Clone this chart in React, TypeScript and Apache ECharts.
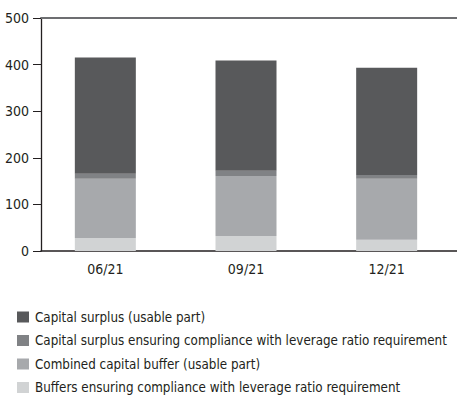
import React, { useEffect, useRef } from "react";
import * as echarts from "echarts";

const categories = ["06/21", "09/21", "12/21"];
const yTicks = [0, 100, 200, 300, 400, 500];
const buffersLeverage = [28, 32, 24];
const combinedBuffer = [127, 129, 131];
const surplusLeverage = [11, 11, 8];
const surplusUsable = [249, 237, 230];

const seriesNames = [
  "Capital surplus (usable part)",
  "Capital surplus ensuring compliance with leverage ratio requirement",
  "Combined capital buffer (usable part)",
  "Buffers ensuring compliance with leverage ratio requirement",
];
const colors = ["#58595b", "#808285", "#a7a9ac", "#d1d3d4"];

const FONT = "'DejaVu Sans Condensed', 'DejaVu Sans', sans-serif";

export default function App() {
  const ref = useRef<HTMLDivElement>(null);
  useEffect(() => {
    if (!ref.current) return;
    const chart = echarts.init(ref.current, undefined, { renderer: "svg" });
    const yMin = yTicks[0];
    const yMax = yTicks[yTicks.length - 1];
    const mkBar = (name: string, data: number[], color: string) => ({
      name,
      type: "bar",
      stack: "total",
      xAxisIndex: 2,
      yAxisIndex: 1,
      barWidth: 61,
      data,
      itemStyle: { color },
    });
    chart.setOption({
      animation: false,
      textStyle: { fontFamily: FONT },
      grid: [
        { left: 41, width: 416, top: 18, bottom: 151 },
        { left: 35, width: 431, top: 18, bottom: 151 },
      ],
      xAxis: [
        {
          gridIndex: 0,
          type: "value",
          min: 0,
          max: 1,
          position: "bottom",
          axisLine: { show: true, onZero: false, lineStyle: { color: "#231f20", width: 1.5 } },
          axisTick: { show: false },
          axisLabel: { show: false },
          splitLine: { show: false },
        },
        {
          gridIndex: 0,
          type: "value",
          min: 0,
          max: 1,
          position: "top",
          axisLine: { show: true, onZero: false, lineStyle: { color: "#6d6e71", width: 2 } },
          axisTick: { show: false },
          axisLabel: { show: false },
          splitLine: { show: false },
        },
        {
          gridIndex: 1,
          type: "category",
          data: categories,
          axisLine: { show: false },
          axisTick: { show: false },
          axisLabel: {
            margin: 11,
            fontSize: 14,
            color: "#231f20",
            fontFamily: FONT,
          },
        },
      ],
      yAxis: [
        {
          gridIndex: 0,
          type: "value",
          min: yMin,
          max: yMax,
          interval: 100,
          axisLine: { show: true, lineStyle: { color: "#231f20", width: 1.3 } },
          axisTick: { show: true, length: 8, lineStyle: { color: "#231f20" } },
          axisLabel: { margin: 12, fontSize: 14, color: "#231f20", fontFamily: FONT },
          splitLine: { show: false },
        },
        {
          gridIndex: 1,
          type: "value",
          min: yMin,
          max: yMax,
          show: false,
          splitLine: { show: false },
        },
      ],
      legend: {
        orient: "vertical",
        left: 17,
        top: 310,
        padding: 0,
        itemWidth: 12,
        itemHeight: 11,
        itemGap: 9.5,
        icon: "rect",
        data: seriesNames,
        textStyle: { fontSize: 13.3, color: "#231f20", fontFamily: FONT, lineHeight: 14, padding: [0, 0, 0, 1] },
      },
      series: [
        mkBar(seriesNames[3], buffersLeverage, colors[3]),
        mkBar(seriesNames[2], combinedBuffer, colors[2]),
        mkBar(seriesNames[1], surplusLeverage, colors[1]),
        mkBar(seriesNames[0], surplusUsable, colors[0]),
      ],
    });
    return () => chart.dispose();
  }, []);
  return <div ref={ref} style={{ width: 457, height: 402, position: "absolute", left: 0, top: 0 }} />;
}
